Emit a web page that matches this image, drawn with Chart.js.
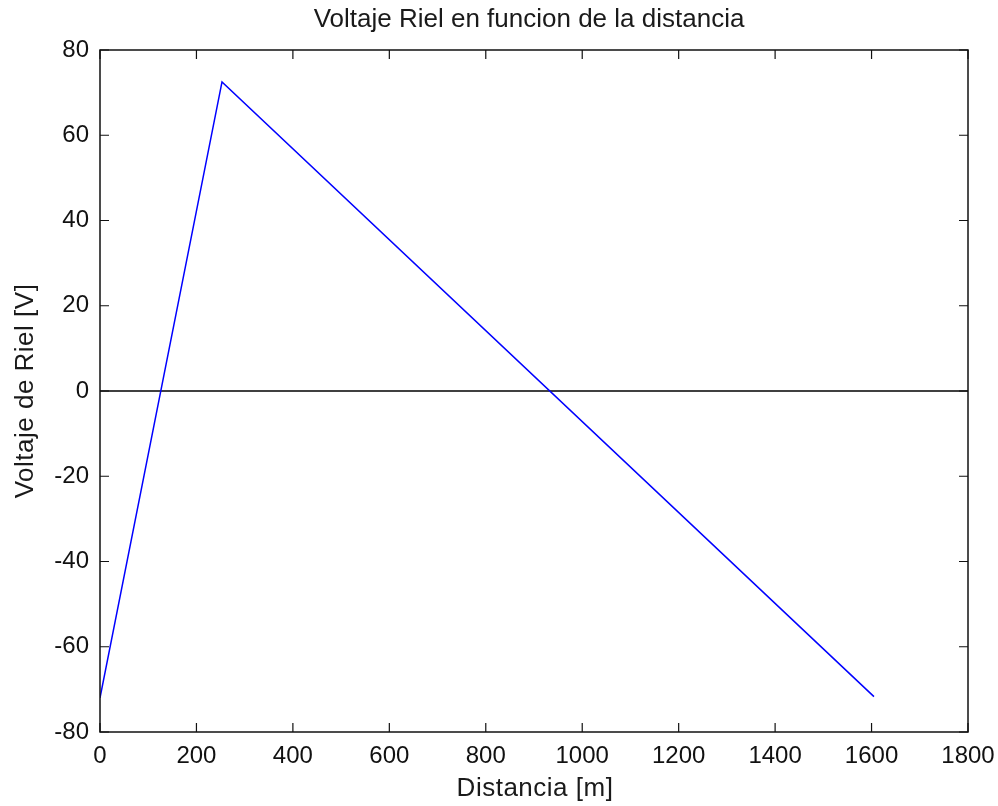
<!DOCTYPE html>
<html>
<head>
<meta charset="utf-8">
<script src="https://cdn.jsdelivr.net/npm/chart.js@4.4.1/dist/chart.umd.min.js"></script>
<style>
  html, body { margin: 0; padding: 0; background: #fff; }
  #wrap { width: 998px; height: 806px; }
</style>
</head>
<body>
<div id="wrap"><canvas id="chart" width="998" height="806"></canvas></div>
<script>
// Values
const distancia = [0, 253, 1605];          // m
const voltaje   = [-72, 72.5, -71.7];      // V
const zeroLineX = [0, 1800];
const zeroLineY = [0, 0];
const xTicks = [0, 200, 400, 600, 800, 1000, 1200, 1400, 1600, 1800];
const yTicks = [-80, -60, -40, -20, 0, 20, 40, 60, 80];

const titleText = 'Voltaje Riel en funcion de la distancia';
const xLabel = 'Distancia [m]';
const yLabel = 'Voltaje de Riel [V]';

Chart.defaults.font.family = '"Liberation Sans", Arial, sans-serif';
Chart.defaults.color = '#111';

// MATLAB style frame: box, inward ticks on all sides, title and axis labels
const matlabFrame = {
  id: 'matlabFrame',
  afterDatasetsDraw(chart) {
    const { ctx, chartArea: a, scales } = chart;
    const tick = 9;
    ctx.save();
    ctx.strokeStyle = '#111';
    ctx.lineWidth = 1.5;
    ctx.strokeRect(a.left, a.top, a.right - a.left, a.bottom - a.top);

    ctx.lineWidth = 1.2;
    ctx.beginPath();
    xTicks.forEach(v => {
      const px = scales.x.getPixelForValue(v);
      ctx.moveTo(px, a.bottom); ctx.lineTo(px, a.bottom - tick);
      ctx.moveTo(px, a.top); ctx.lineTo(px, a.top + tick);
    });
    yTicks.forEach(v => {
      const py = scales.y.getPixelForValue(v);
      ctx.moveTo(a.left, py); ctx.lineTo(a.left + tick, py);
      ctx.moveTo(a.right, py); ctx.lineTo(a.right - tick, py);
    });
    ctx.stroke();

    ctx.fillStyle = '#1a1a1a';
    ctx.textAlign = 'center';
    ctx.textBaseline = 'alphabetic';
    ctx.font = '26px "Liberation Sans", Arial, sans-serif';
    ctx.fillText(titleText, 529, 27);

    ctx.letterSpacing = '0.5px';
    ctx.fillText(xLabel, 535, 796);

    ctx.translate(33, (a.top + a.bottom) / 2);
    ctx.rotate(-Math.PI / 2);
    ctx.fillText(yLabel, 0, 0);
    ctx.restore();
  }
};

new Chart(document.getElementById('chart'), {
  type: 'scatter',
  data: {
    datasets: [
      {
        label: 'Voltaje',
        data: distancia.map((d, i) => ({ x: d, y: voltaje[i] })),
        showLine: true,
        borderColor: '#0000ff',
        borderWidth: 1.5,
        pointRadius: 0,
        tension: 0
      },
      {
        label: 'cero',
        data: zeroLineX.map((d, i) => ({ x: d, y: zeroLineY[i] })),
        showLine: true,
        borderColor: '#000',
        borderWidth: 1.5,
        pointRadius: 0
      }
    ]
  },
  options: {
    responsive: false,
    animation: false,
    layout: { padding: { top: 50, right: 30, left: 0, bottom: 0 } },
    plugins: {
      legend: { display: false },
      title: { display: false },
      tooltip: { enabled: false }
    },
    scales: {
      x: {
        type: 'linear',
        min: 0, max: 1800,
        afterFit(s) { s.height = 74; s.paddingLeft = 0; s.paddingRight = 0; },
        afterBuildTicks(s) { s.ticks = xTicks.map(v => ({ value: v })); },
        grid: { display: false, tickLength: 0 },
        border: { display: false },
        ticks: {
          font: { size: 24 }, padding: 10, maxRotation: 0, autoSkip: false,
          callback: v => String(v)
        }
      },
      y: {
        type: 'linear',
        min: -80, max: 80,
        afterFit(s) { s.width = 100; s.paddingTop = 0; s.paddingBottom = 0; },
        afterBuildTicks(s) { s.ticks = yTicks.map(v => ({ value: v })); },
        grid: { display: false, tickLength: 0 },
        border: { display: false },
        ticks: {
          font: { size: 24 }, padding: 11, autoSkip: false,
          callback: v => String(v)
        }
      }
    }
  },
  plugins: [matlabFrame]
});
</script>
</body>
</html>
